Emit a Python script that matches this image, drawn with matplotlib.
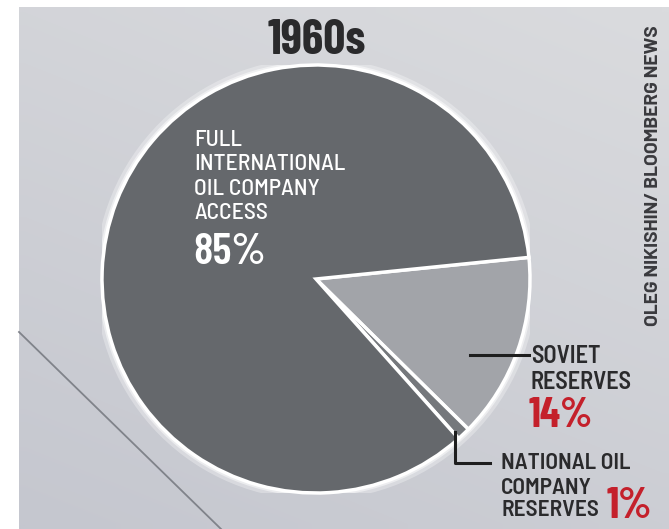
import matplotlib
matplotlib.use("Agg")
import numpy as np
import matplotlib.pyplot as plt
from matplotlib.patches import Circle
from matplotlib import font_manager

# data
labels = ["SOVIET\nRESERVES", "NATIONAL OIL\nCOMPANY\nRESERVES", "FULL\nINTERNATIONAL\nOIL COMPANY\nACCESS"]
shares = [14, 1, 85]
colors = ["#a2a4a9", "#75787c", "#65686c"]
title = "1960s"
credit = "OLEG NIKISHIN/ BLOOMBERG NEWS"

names = {f.name for f in font_manager.fontManager.ttflist}
def pick(*cands):
    for c in cands:
        if c in names:
            return c
    return "DejaVu Sans"
cond = pick("Barlow Condensed", "Roboto Condensed", "Archivo Narrow")
semi = pick("Barlow Semi Condensed", "Roboto Condensed", "Archivo Narrow")
wide = pick("Barlow", "Roboto", "DejaVu Sans")

W, H = 669, 529
fig = plt.figure(figsize=(W / 100, H / 100), dpi=100, facecolor="white")

# paper background with a soft gradient
bg = fig.add_axes([19 / W, 0, 1 - 19 / W, (H - 7) / H], zorder=-10)
yy, xx = np.mgrid[0:1:50j, 0:1:50j]
shade = 0.5 * (1 - yy) + 0.25 * (1 - xx)
top = np.array([197, 199, 207]) / 255
low = np.array([218, 219, 222]) / 255
img = low + (top - low) * np.clip(shade[..., None] / 0.75, 0, 1)
bg.imshow(img, extent=[0, 1, 0, 1], aspect="auto", origin="lower", interpolation="bilinear")
bg.set_xlim(0, 1)
bg.set_ylim(0, 1)
bg.axis("off")

# fold line in the paper
fig.lines.append(plt.Line2D([19 / W, 221 / W], [1 - 332 / H, 0], transform=fig.transFigure,
                            color="#80838a", lw=1.3, zorder=-4))

cx, cy, r = 316, 279, 214
ax = fig.add_axes([(cx - r) / W, (H - cy - r) / H, 2 * r / W, 2 * r / H])
ax.add_patch(Circle((0, 0), 1.0, facecolor="none", edgecolor="white", lw=10, alpha=0.3))
ax.add_patch(Circle((0, 0), 1.0, facecolor="none", edgecolor="white", lw=5, alpha=0.5))
ax.pie(shares, colors=colors, startangle=5.8, counterclock=False, radius=1.0,
       wedgeprops=dict(edgecolor="white", linewidth=2.5))
ax.set_xlim(-1, 1)
ax.set_ylim(-1, 1)
ax.set_aspect("equal")
ax.axis("off")

def ft(x, y, s, fam=semi, **kw):
    fig.text(x / W, 1 - y / H, s, family=fam, **kw)

dark = "#2a2a2c"
red = "#c4202b"
ft(317, 41, title, fam=cond, fontsize=35, weight="bold", color=dark, ha="center", va="center")

ft(194, 130, labels[2], fontsize=17, weight="medium", color="white", ha="left", va="top", linespacing=1.27)
ft(193, 252, f"{shares[2]}%", fam=cond, fontsize=32, weight="semibold", color="white", ha="left", va="center")

ft(531, 345, labels[0], fontsize=17.5, weight="semibold", color=dark, ha="left", va="top", linespacing=1.18)
ft(529, 416, f"{shares[0]}%", fam=cond, fontsize=30, weight="bold", color=red, ha="left", va="center")
fig.lines.append(plt.Line2D([470 / W, 529 / W], [1 - 355 / H] * 2, transform=fig.transFigure,
                            color="#1e1e1e", lw=2.2))

# national oil label: first line apart so the big "1%" can tuck in beside the rest
first, rest = labels[1].split("\n", 1)
ft(501, 453, first, fontsize=16.8, weight="semibold", color=dark, ha="left", va="top")
ft(501, 478, rest, fontsize=16.8, weight="semibold", color=dark, ha="left", va="top", linespacing=1.14)
ft(607, 507, f"{shares[1]}%", fam=cond, fontsize=31, weight="bold", color=red, ha="left", va="center")
fig.lines.append(plt.Line2D([455 / W, 455 / W, 490 / W], [1 - 432 / H, 1 - 463 / H, 1 - 463 / H],
                            transform=fig.transFigure, color="#1e1e1e", lw=2.2))

ft(653, 176, credit, fam=wide, fontsize=13.8, weight="bold", color="#3a3a3e", rotation=90,
   ha="center", va="center")

fig.savefig("out.png", dpi=100)
